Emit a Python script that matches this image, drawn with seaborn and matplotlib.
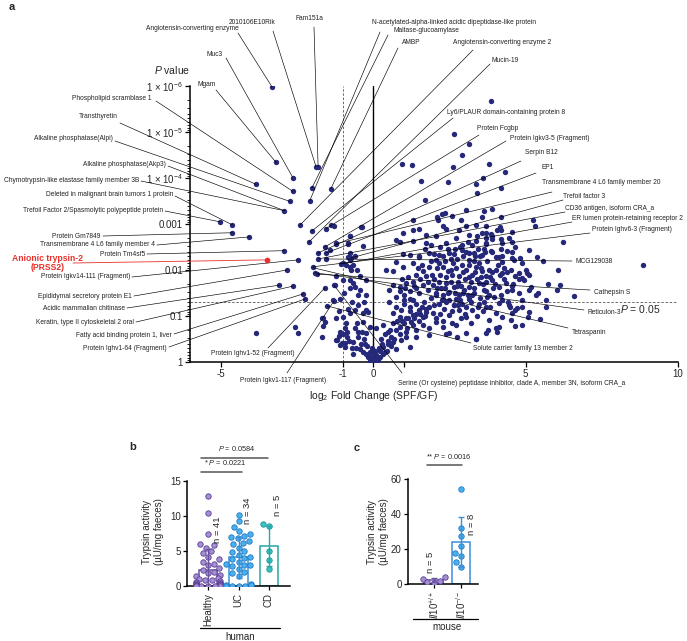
import numpy as np
import pandas as pd
import matplotlib.pyplot as plt
import seaborn as sns
from matplotlib.lines import Line2D
from matplotlib.ticker import LogLocator, NullFormatter

sns.set_theme(style="ticks")
plt.rcParams['font.family'] = ['Liberation Sans', 'DejaVu Sans']
plt.rcParams['mathtext.fontset'] = 'custom'
plt.rcParams['mathtext.rm'] = 'Liberation Sans'
plt.rcParams['mathtext.it'] = 'Liberation Sans:italic'
plt.rcParams['mathtext.bf'] = 'Liberation Sans:bold'

W, H = 687, 641
NAVY = "#26287a"
RED = "#e8312b"

# ---- panel a: volcano (log2 FC, -log10 P) ----
left_points = [
    (-3.31, 5.98), (-3.18, 4.34), (-2.63, 4.01), (-3.83, 3.86), (-2.63, 3.71), (-2.72, 3.49),
    (-2.91, 3.29), (-5.03, 3.05), (-4.61, 2.98), (-4.61, 2.81), (-4.05, 2.72), (-2.91, 2.42),
    (-2.46, 2.22), (-2.82, 2.00), (-3.08, 1.67), (-2.62, 1.65), (-2.29, 1.48), (-2.23, 1.37),
    (-1.87, 4.25), (-1.80, 4.25), (-2.00, 3.79), (-1.38, 3.77), (-2.07, 3.51), (-2.39, 2.98),
    (-2.00, 2.85), (-1.54, 2.90), (-1.38, 2.98), (-0.37, 2.94), (-2.10, 2.61), (-1.58, 2.50),
    (-1.22, 2.57), (-0.83, 2.57), (-0.76, 2.74), (-1.80, 2.37), (-1.54, 2.37), (-1.80, 2.24),
    (-1.54, 2.24), (-0.83, 2.29), (-0.73, 2.26), (-1.06, 2.13), (-1.97, 2.07), (-0.66, 2.11),
    (-1.90, 1.94), (-1.84, 1.91), (-1.58, 1.61), (-1.28, 1.67), (-1.28, 1.33), (-1.51, 1.22),
    (-3.82, 0.62), (-2.55, 0.76), (-2.45, 0.63), (-1.67, 0.95), (-1.64, 0.95), (-1.58, 0.87),
    (-1.64, 0.78), (-1.67, 0.54), (-1.12, 0.56), (-1.19, 0.47), (-1.02, 0.41), (-0.92, 0.41),
    (-0.86, 0.65),
]
right_points = [
    (3.87, 5.67), (2.67, 4.95), (3.15, 4.75), (2.93, 4.51), (2.63, 4.23), (0.94, 4.31),
    (1.29, 4.29), (3.81, 4.31), (4.33, 4.12), (1.59, 3.94), (2.47, 3.92), (3.61, 3.99),
    (3.38, 3.86), (3.42, 3.68), (4.20, 3.79), (1.72, 3.53), (3.06, 3.31), (2.27, 3.22),
    (2.37, 3.25), (2.11, 3.16), (2.60, 3.18), (3.64, 3.29), (3.90, 3.33), (3.58, 3.16),
    (4.20, 3.16), (5.24, 3.09), (5.31, 2.96), (4.17, 2.94), (4.20, 2.88), (4.56, 2.83),
    (3.71, 2.81), (3.87, 2.78), (3.71, 2.70), (3.90, 2.68), (4.20, 2.68), (4.56, 2.61),
    (6.22, 2.61), (3.71, 2.57), (3.68, 2.40), (3.87, 2.42), (4.20, 2.46), (4.39, 2.42),
    (4.56, 2.40), (4.23, 2.31), (4.82, 2.26), (5.37, 2.29), (5.56, 2.20), (8.86, 2.11),
    (6.06, 2.00), (6.13, 1.67), (6.03, 1.57), (6.58, 1.43), (5.73, 1.70), (5.67, 1.35),
    (5.67, 1.19), (5.47, 0.93), (5.08, 0.97), (4.88, 0.80), (4.66, 0.78), (4.07, 0.65),
    (3.78, 0.69), (3.38, 0.50), (2.76, 0.54), (2.40, 0.60), (5.41, 1.50), (5.18, 1.63),
    (4.88, 1.83), (5.05, 1.94), (4.79, 1.94), (4.56, 2.26), (4.13, 2.29), (4.56, 1.65),
    (4.72, 1.17), (4.13, 1.28), (4.43, 1.30), (4.56, 1.07),
    (4.08, 2.87), (3.91, 2.73), (4.24, 2.58), (4.46, 2.69), (4.67, 2.51), (5.11, 2.44),
    (4.02, 2.29), (4.24, 2.18), (4.62, 2.22), (4.89, 2.15), (4.02, 2.00), (4.24, 1.93),
    (4.51, 2.00), (4.67, 1.86), (4.95, 1.78), (5.11, 1.89), (3.91, 1.78), (4.13, 1.64),
    (4.35, 1.71), (4.57, 1.56), (4.78, 1.49), (5.11, 1.56), (5.33, 1.46), (3.97, 1.42),
    (4.24, 1.35), (4.46, 1.24), (4.67, 1.13), (4.89, 1.20), (5.11, 1.09), (4.02, 1.06),
    (4.24, 0.98), (4.51, 0.91), (3.80, 0.91), (4.02, 0.73), (3.70, 0.62), (4.13, 0.76),
]
core_points = [
    (1.30, 3.09), (2.12, 3.09), (2.88, 3.09),
    (-1.28, 2.96), (-0.38, 2.93), (0.98, 2.81), (1.30, 2.87), (1.52, 2.89), (2.28, 2.96),
    (2.39, 2.89), (3.04, 2.95), (2.83, 2.87), (3.37, 2.98), (3.59, 2.80), (3.70, 2.95),
    (-0.76, 2.74), (0.76, 2.66), (1.74, 2.77), (2.07, 2.73), (2.72, 2.69), (3.15, 2.77), (3.42, 2.73),
    (-1.22, 2.58), (-0.82, 2.58), (-0.33, 2.53), (0.87, 2.60), (1.30, 2.62), (1.74, 2.58),
    (2.39, 2.58), (2.93, 2.55), (3.37, 2.62), (3.70, 2.58), (0.98, 2.35), (1.20, 2.33),
    (1.52, 2.29), (1.85, 2.37), (2.17, 2.33), (2.50, 2.37), (2.93, 2.44), (3.15, 2.37),
    (3.32, 2.38), (3.59, 2.33), (-1.41, 2.44), (-0.76, 2.37), (-0.60, 2.31), (-0.76, 2.22),
    (-0.98, 2.15), (-0.87, 2.11), (-0.74, 2.07), (-0.71, 2.00), (-0.54, 2.00), (0.76, 2.18),
    (0.43, 2.00), (0.65, 1.97), (0.98, 2.07), (1.30, 2.15), (1.47, 2.04), (1.63, 1.97),
    (1.74, 1.86), (1.85, 2.07), (2.07, 2.22), (2.17, 2.15), (2.28, 2.07), (2.45, 1.97),
    (2.61, 2.15), (2.72, 2.04), (2.83, 1.86), (2.93, 2.11), (3.04, 2.00), (3.15, 2.22),
    (3.26, 1.89), (3.37, 2.07), (3.48, 2.15), (3.59, 1.97), (3.70, 1.86), (-1.20, 1.86),
    (-0.98, 1.78), (-0.76, 1.78), (-0.43, 1.86), (-0.22, 1.78),
    (-0.65, 1.71), (-0.60, 1.62), (-0.76, 1.60), (-0.43, 1.56), (-1.25, 1.67), (0.65, 1.67),
    (0.54, 1.56), (0.87, 1.64), (1.09, 1.71), (1.30, 1.75), (1.41, 1.60), (1.52, 1.49),
    (1.63, 1.67), (1.79, 1.56), (1.96, 1.67), (2.07, 1.49), (2.23, 1.60), (2.39, 1.71),
    (2.50, 1.53), (2.66, 1.64), (2.83, 1.46), (2.99, 1.56), (3.15, 1.64), (3.32, 1.49),
    (3.48, 1.71), (3.64, 1.56), (3.75, 1.42), (0.76, 1.42), (1.03, 1.46), (1.20, 1.38),
    (2.28, 1.38), (2.72, 1.36), (3.15, 1.36), (-1.30, 1.35), (-1.09, 1.38), (-0.49, 1.46),
    (-0.22, 1.46),
    (0.54, 1.31), (0.76, 1.20), (0.92, 1.13), (1.03, 1.27), (1.20, 1.20), (1.30, 1.35),
    (1.41, 1.27), (1.52, 1.13), (1.68, 1.31), (1.85, 1.20), (1.96, 1.06), (2.17, 1.27),
    (2.34, 1.16), (2.50, 1.02), (2.66, 1.24), (2.83, 1.13), (2.93, 1.27), (3.04, 0.98),
    (3.26, 1.13), (3.48, 1.27), (3.70, 1.20), (0.65, 1.06), (0.87, 0.98), (1.09, 0.95),
    (1.30, 1.02), (1.63, 0.98), (1.74, 1.09), (-0.82, 1.16), (-0.60, 1.13), (-0.76, 1.06),
    (-0.33, 1.06), (-0.22, 1.13), (-0.16, 1.09), (-1.20, 0.95), (-0.98, 0.98),
    (-0.54, 0.84), (-0.33, 0.87), (-0.11, 0.76), (0.11, 0.73), (0.33, 0.80), (0.49, 0.66),
    (0.65, 0.84), (0.87, 0.76), (1.09, 0.66), (1.25, 0.87), (1.41, 0.69), (1.63, 0.80),
    (1.85, 0.73), (2.07, 0.87), (2.28, 0.76), (2.50, 0.62), (2.72, 0.80), (1.85, 0.58),
    (1.41, 0.55), (1.09, 0.55), (-1.09, 0.66), (-0.92, 0.73), (-0.49, 0.66), (-0.22, 0.62),
    (3.37, 0.51), (3.04, 0.62),
    (-1.20, 0.47), (-1.09, 0.36), (-0.92, 0.33), (-0.65, 0.44), (-0.43, 0.29), (-0.27, 0.40),
    (-0.11, 0.22), (0.00, 0.11), (-0.11, 0.07), (0.05, 0.05), (0.11, 0.15), (0.22, 0.25),
    (0.33, 0.33), (0.49, 0.40), (0.65, 0.44), (0.76, 0.29), (0.92, 0.47), (0.38, 0.22),
    (0.16, 0.04), (-0.05, 0.00), (-0.16, 0.11), (-0.22, 0.18), (0.22, 0.11), (0.33, 0.18),
    (-0.65, 0.18), (-0.33, 0.22), (1.20, 0.33),
    (0.00, 0.02), (0.05, 0.10), (-0.05, 0.08), (0.10, 0.03), (-0.10, 0.02), (0.02, 0.20),
    (0.08, 0.25), (-0.03, 0.30), (0.15, 0.08), (-0.12, 0.12),
    (2.0, 1.8), (2.2, 1.9), (2.4, 1.85), (2.6, 1.9), (2.8, 1.75), (3.0, 1.8), (3.2, 1.75),
    (3.4, 1.8), (3.6, 1.7), (2.1, 1.6), (2.3, 1.45), (2.5, 1.35), (2.7, 1.5), (2.9, 1.65),
    (3.1, 1.45), (3.3, 1.6), (3.5, 1.4), (3.7, 1.55), (1.9, 1.4), (2.0, 1.25), (2.2, 1.05),
    (2.4, 1.3), (2.6, 1.1), (2.8, 1.25), (3.0, 1.05), (3.2, 1.3), (3.4, 1.0), (3.6, 1.1),
    (1.7, 1.0), (1.5, 0.9), (1.3, 0.8), (1.1, 0.75), (0.9, 0.6), (0.7, 0.5), (0.6, 0.35),
    (0.45, 0.25), (1.6, 1.2), (1.4, 1.05), (1.2, 1.1), (1.0, 0.85), (0.8, 0.9), (2.1, 2.05),
    (2.35, 2.2), (2.55, 2.0), (2.75, 2.25), (2.95, 1.95), (3.15, 2.1), (3.35, 2.3),
    (3.55, 2.05), (3.75, 2.2), (2.45, 2.45), (2.65, 2.35), (2.85, 2.5), (3.05, 2.4),
    (3.25, 2.55), (3.45, 2.45), (1.9, 2.2), (1.6, 2.1), (1.4, 1.9), (1.2, 1.55), (1.0, 1.35),
    (0.9, 1.55), (3.9, 2.4), (4.1, 2.1), (4.3, 1.8), (4.4, 1.55), (4.6, 1.7), (4.8, 1.8),
    (5.0, 2.0), (4.9, 1.35), (4.5, 1.2), (3.85, 1.2), (3.95, 1.6), (4.2, 1.45), (-0.3, 0.5),
    (-0.5, 0.55), (-0.7, 0.3), (-0.85, 0.55), (-1.0, 0.6), (-0.2, 0.35), (0.25, 0.5),
    (0.4, 0.6), (0.55, 0.7),
    (1.5, 2.3), (1.7, 2.45), (1.9, 2.55), (2.2, 2.5), (2.0, 2.35), (2.3, 2.3), (2.55, 2.25),
    (2.7, 2.45), (2.95, 2.3), (3.1, 2.6), (3.3, 2.2), (3.5, 2.3), (3.65, 2.45), (3.8, 2.0),
    (3.85, 1.85), (3.9, 1.95), (4.0, 1.7), (4.15, 1.9), (4.3, 2.05), (4.4, 1.95), (1.8, 1.75),
    (1.95, 1.9), (2.15, 1.75), (2.35, 1.6), (2.55, 1.75), (2.75, 1.65), (2.95, 1.5),
    (3.15, 1.85), (3.35, 1.95), (3.55, 1.85), (3.7, 1.75), (1.55, 1.8), (1.35, 1.65),
    (1.15, 1.85), (1.05, 1.6), (0.95, 1.8), (2.05, 1.45), (2.25, 1.35), (2.45, 1.5),
    (2.65, 1.25), (2.85, 1.35), (3.05, 1.2), (3.25, 1.45), (3.45, 1.2), (3.65, 1.3), (3.8, 1.45),
    (1.75, 1.15), (1.55, 1.05), (1.35, 0.95), (1.15, 0.95), (0.95, 0.9), (2.05, 0.95),
    (2.3, 0.9), (2.6, 0.85), (2.9, 0.95), (3.2, 0.85), (0.75, 0.7), (0.6, 0.55), (0.5, 0.45),
    (0.3, 0.4), (0.2, 0.3), (-0.4, 0.4), (-0.55, 0.3), (-0.8, 0.45), (-0.35, 0.65),
    (-0.6, 0.75), (-0.9, 0.85), (-1.1, 1.1), (-0.7, 1.3), (-0.5, 1.25), (-0.95, 1.5), (-0.3, 1.3),
]

highlight_name = "Anionic trypsin-2\n(PRSS2)"
highlight_point = (-3.47, 2.22)

label_names = [
    "Angiotensin-converting enzyme", "2010106E10Rik", "Fam151a", "Muc3", "Mgam",
    "Phospholipid scramblase 1", "Transthyretin", "Alkaline phosphatase(Alpi)",
    "Alkaline phosphatase(Akp3)", "Chymotrypsin-like elastase family member 3B",
    "Deleted in malignant brain tumors 1 protein",
    "Trefoil Factor 2/Spasmolytic polypeptide protein", "Protein Gm7849",
    "Transmembrane 4 L6 family member 4", "Protein Tm4sf5", "Protein Igkv14-111 (Fragment)",
    "Epididymal secretory protein E1", "Acidic mammalian chitinase",
    "Keratin, type II cytoskeletal 2 oral", "Fatty acid binding protein 1, liver",
    "Protein Ighv1-64 (Fragment)", "Protein Ighv1-52 (Fragment)", "Protein Igkv1-117 (Fragment)",
    "N-acetylated-alpha-linked acidic dipeptidase-like protein", "Maltase-glucoamylase", "AMBP",
    "Angiotensin-converting enzyme 2", "Mucin-19", "Ly6/PLAUR domain-containing protein 8",
    "Protein Fcgbp", "Protein Igkv3-5 (Fragment)", "Serpin B12", "EP1",
    "Transmembrane 4 L6 family member 20", "Trefoil factor 3", "CD36 antigen, isoform CRA_a",
    "ER lumen protein-retaining receptor 2", "Protein Ighv6-3 (Fragment)", "MCG129038",
    "Cathepsin S", "Reticulon-3", "Tetraspanin", "Solute carrier family 13 member 2",
    "Serine (Or cysteine) peptidase inhibitor, clade A, member 3N, isoform CRA_a",
]
label_fc = [-3.31, -1.87, -1.80, -2.63, -3.18, -2.63, -3.83, -2.72, -2.91, -2.91,
            -4.61, -5.03, -4.61, -4.05, -2.91, -2.46, -2.82, -3.08, -2.62, -2.29,
            -2.23, -1.58, -1.28,
            -2.07, -2.00, -1.38, -2.39, -2.10, -2.00, -1.54, -1.58, -1.80, -1.54,
            -1.22, -0.73, -1.80, -1.06, -1.97, -1.54, -1.84, -1.90, -1.97, -1.51, -1.28]
label_nlp = [5.98, 4.25, 4.25, 4.01, 4.34, 3.71, 3.86, 3.49, 3.29, 3.29,
             2.98, 3.05, 2.81, 2.72, 2.42, 2.22, 2.00, 1.67, 1.65, 1.48,
             1.37, 1.61, 1.33,
             3.51, 3.79, 3.77, 2.98, 2.61, 2.85, 2.90, 2.50, 2.37, 2.37,
             2.57, 2.26, 2.24, 2.13, 2.07, 2.24, 1.91, 1.94, 2.05, 1.22, 1.67]

# text position (ref px), alignment, leader start (ref px)
label_layout = [
    (192, 29, 'center', 238, 33), (252, 23, 'center', 273, 31), (309, 19, 'center', 314, 27),
    (215, 54, 'center', 226, 58), (207, 85, 'center', 216, 90), (151, 98, 'right', 156, 101),
    (118, 117, 'right', 120, 123), (113, 138, 'right', 115, 141), (166, 164, 'right', 168, 166),
    (139, 180, 'right', 141, 181), (173, 195, 'right', 175, 196), (163, 210, 'right', 165, 211),
    (100, 236, 'right', 103, 236), (155, 245, 'right', 157, 245), (145, 254, 'right', 147, 254),
    (130, 277, 'right', 132, 277), (132, 296, 'right', 134, 296), (125, 309, 'right', 127, 308),
    (134, 323, 'right', 136, 322), (172, 335, 'right', 174, 334), (167, 348, 'right', 169, 347),
    (253, 354, 'center', 268, 348), (283, 380, 'center', 287, 373),
    (372, 22, 'left', 380, 32), (393, 31, 'left', 388, 35), (402, 42, 'left', 398, 48),
    (453, 42, 'left', 473, 50), (491, 61, 'left', 490, 64), (447, 113, 'left', 453, 118),
    (477, 129, 'left', 479, 135), (510, 138, 'left', 506, 141), (525, 153, 'left', 521, 161),
    (541, 168, 'left', 536, 173), (542, 183, 'left', 552, 192), (563, 196, 'left', 563, 200),
    (565, 209, 'left', 565, 212), (572, 218, 'left', 572, 222), (592, 229, 'left', 590, 233),
    (575, 261, 'left', 572, 261), (594, 292, 'left', 590, 290), (587, 313, 'left', 584, 310),
    (572, 333, 'left', 568, 328), (473, 348, 'left', 471, 343), (398, 383, 'left', 402, 373),
]

y_ticks = [1e-6, 1e-5, 1e-4, 1e-3, 1e-2, 1e-1, 1]
y_ticklabels = [r'1 × 10$^{-6}$', r'1 × 10$^{-5}$', r'1 × 10$^{-4}$', '0.001', '0.01', '0.1', '1']
x_ticks = [-5, -1, 0, 1, 5, 10]
x_ticklabels = ['-5', '-1', '0', '', '5', '10']

# ---- panel b / c ----
human_groups = ['Healthy', 'UC', 'CD']
healthy = [12.9, 10.5, 7.4, 6.0, 5.8, 5.5, 5.0, 4.7, 4.2, 3.8, 3.5, 3.2, 3.0, 2.6, 2.3, 2.0,
           1.8, 1.6, 1.4, 1.2, 1.0, 0.9, 0.8, 0.7, 0.6, 0.5, 0.5, 0.4, 0.3, 0.3, 0.2, 0.2,
           0.1, 0.1, 0.1, 0.0, 0.0, 0.0, 0.0, 0.0, 0.0]
uc = [10.2, 9.3, 8.5, 7.8, 7.5, 7.2, 7.0, 6.8, 6.5, 6.2, 6.0, 5.5, 5.0, 4.8, 4.5, 4.2, 4.0,
      3.8, 3.5, 3.0, 2.8, 3.2, 3.0, 2.5, 2.0, 1.8, 1.5, 0.3, 0.2, 0.1, 0.0, 0.0, 0.0, 0.0]
cd = [8.86, 8.57, 5.05, 3.70, 2.40]
mouse_groups = [r'$\mathit{Il10}^{+/+}$', r'$\mathit{Il10}^{-/-}$']
il10_wt = [3.8, 2.7, 1.7, 1.3, 0.8]
il10_ko = [54.1, 32.1, 27.5, 21.6, 15.9, 17.5, 12.3, 9.9]

edge_cols = {'Healthy': '#6a52a3', 'UC': '#3d8fd6', 'CD': '#26a6a6'}
dot_face = {'Healthy': '#a58fd3', 'UC': '#4bb0ee', 'CD': '#3cc2c2'}
dot_edge = {'Healthy': '#5a3f94', 'UC': '#1f78c4', 'CD': '#1a9797'}


def fp(x, y):
    return x / W, 1 - y / H


fig = plt.figure(figsize=(W / 100, H / 100), dpi=100)

# ================= panel a =================
ax = fig.add_axes([190 / W, 1 - 362 / H, 488 / W, 276 / H])
pts = pd.DataFrame(left_points + right_points + core_points, columns=['fc', 'nlp'])
pts['p'] = 10.0 ** (-pts['nlp'])
sns.scatterplot(data=pts, x='fc', y='p', ax=ax, color=NAVY, s=15, linewidth=0, zorder=3)
ax.scatter([highlight_point[0]], [10.0 ** -highlight_point[1]], color=RED, s=17, linewidth=0, zorder=4)
ax.set_yscale('log')
ax.set_ylim(1, 1e-6)
ax.set_xlim(-6, 10)
ax.set_yticks(y_ticks)
ax.set_yticklabels(y_ticklabels)
ax.yaxis.set_minor_locator(LogLocator(base=10, subs=np.arange(2, 10)))
ax.yaxis.set_minor_formatter(NullFormatter())
ax.set_xticks(x_ticks)
ax.set_xticklabels(x_ticklabels)
ax.tick_params(axis='both', which='major', labelsize=7, width=0.9, length=3.5, pad=1.5, color='black')
ax.tick_params(axis='y', which='minor', width=0.6, length=2, color='black')
ax.set_xlabel('')
ax.set_ylabel('')
sns.despine(ax=ax)
for sp in ['left', 'bottom']:
    ax.spines[sp].set_linewidth(1.1)
    ax.spines[sp].set_color('black')

ax.axvline(-1, color='#555555', lw=0.6, ls=(0, (3, 2)), zorder=1)
ax.axvline(0, color='black', lw=1.0, zorder=1)
ax.axhline(0.05, color='#555555', lw=0.6, ls=(0, (3, 2)), zorder=1)

for name, fcv, nv, lay in zip(label_names, label_fc, label_nlp, label_layout):
    tx, ty, ha, lx, ly = lay
    fig.text(*fp(tx, ty), name, fontsize=4.8, ha=ha, va='center', color='#222222')
    ax.annotate('', xy=(fcv, 10.0 ** -nv), xycoords='data', xytext=fp(lx, ly),
                textcoords='figure fraction', annotation_clip=False,
                arrowprops=dict(arrowstyle='-', color='black', lw=0.45, shrinkA=0, shrinkB=0))

fig.text(*fp(48, 263), highlight_name, fontsize=6.2, fontweight='bold', color=RED,
         ha='center', va='center', linespacing=1.05)
ax.annotate('', xy=(highlight_point[0], 10.0 ** -highlight_point[1]), xycoords='data',
            xytext=fp(73, 263), textcoords='figure fraction', annotation_clip=False,
            arrowprops=dict(arrowstyle='-', color=RED, lw=0.6, shrinkA=0, shrinkB=0))

fig.text(*fp(172, 70), r'$P$ value', fontsize=7.5, ha='center', va='center')
fig.text(*fp(640, 309), r'$P$ = 0.05', fontsize=7.5, ha='center', va='center')
fig.text(*fp(374, 396), r'log$_2$ Fold Change (SPF/GF)', fontsize=7.5, ha='center', va='center')
fig.text(*fp(12, 7), 'a', fontsize=8, fontweight='bold', ha='center', va='center')


# ================= bar panels =================
def bar_panel(axp, groups, values, edges, faces, dedges, xlim, ylim, yticks, width):
    df = pd.DataFrame({'group': np.repeat(groups, [len(v) for v in values]),
                       'act': np.concatenate(values)})
    pal = {g: e for g, e in zip(groups, edges)}
    sns.barplot(data=df, x='group', y='act', hue='group', order=groups, palette=pal,
                fill=False, errorbar=None, width=width, linewidth=1.1, legend=False, ax=axp)
    for g, fc_, ec_ in zip(groups, faces, dedges):
        sns.swarmplot(data=df[df.group == g], x='group', y='act', order=groups, color=fc_,
                      edgecolor=ec_, linewidth=0.6, size=3.9, ax=axp, zorder=3, warn_thresh=1)
    for i, (v, e) in enumerate(zip(values, edges)):
        axp.errorbar(i, np.mean(v), yerr=np.std(v, ddof=1), color=e, capsize=2.5,
                     elinewidth=1.0, capthick=1.0, zorder=5)
    axp.set_xlim(*xlim)
    axp.set_ylim(*ylim)
    axp.set_yticks(yticks)
    axp.set_xlabel('')
    axp.set_ylabel('')
    sns.despine(ax=axp)
    for sp in ['left', 'bottom']:
        axp.spines[sp].set_linewidth(1.1)
        axp.spines[sp].set_color('black')
    axp.tick_params(axis='y', labelsize=7, width=0.9, length=3, pad=1.5, color='black')
    axp.tick_params(axis='x', labelsize=7, width=0.9, length=3, pad=2, color='black',
                    labelrotation=90)


axb = fig.add_axes([187 / W, 1 - 586 / H, 103 / W, 105 / H])
bar_panel(axb, human_groups, [healthy, uc, cd],
          [edge_cols[g] for g in human_groups], [dot_face[g] for g in human_groups],
          [dot_edge[g] for g in human_groups], (-0.69, 2.69), (0, 15), [0, 5, 10, 15], 0.6)
axb.plot([-0.23, 1.11], [16.3, 16.3], color='#555555', lw=1.1, clip_on=False)
axb.plot([-0.23, 1.97], [18.3, 18.3], color='#555555', lw=1.1, clip_on=False)

axc = fig.add_axes([408 / W, 1 - 584 / H, 70 / W, 105 / H])
bar_panel(axc, mouse_groups, [il10_wt, il10_ko],
          [edge_cols['Healthy'], edge_cols['UC']], [dot_face['Healthy'], dot_face['UC']],
          [dot_edge['Healthy'], dot_edge['UC']], (-0.96, 1.63), (0, 60), [0, 20, 40, 60], 0.7)
axc.plot([-0.26, 1.04], [68, 68], color='#555555', lw=1.1, clip_on=False)

sig_font = 5.3
fig.text(*fp(225, 467), r'* $P$ = 0.0221', fontsize=sig_font, ha='center', va='bottom')
fig.text(*fp(237, 453), r'$P$ = 0.0584', fontsize=sig_font, ha='center', va='bottom')
fig.text(*fp(449, 461), r'** $P$ = 0.0016', fontsize=sig_font, ha='center', va='bottom')

for (x, y, s) in [(218, 530, 'n = 41'), (247, 511, 'n = 34'), (278, 505, 'n = 5'),
                  (430, 562, 'n = 5'), (472, 524, 'n = 8')]:
    fig.text(*fp(x, y), s, fontsize=6.8, rotation=90, ha='center', va='center')

for x in (153, 378):
    fig.text(*fp(x, 532), 'Trypsin activity\n(µU/mg faeces)', fontsize=7, rotation=90,
             ha='center', va='center', linespacing=1.15)

fig.add_artist(Line2D([200 / W, 280 / W], [1 - 628 / H, 1 - 628 / H], color='black', lw=0.9))
fig.add_artist(Line2D([413 / W, 478 / W], [1 - 619 / H, 1 - 619 / H], color='black', lw=0.9))
fig.text(*fp(240, 637), 'human', fontsize=7, ha='center', va='center')
fig.text(*fp(447, 627), 'mouse', fontsize=7, ha='center', va='center')
fig.text(*fp(133, 447), 'b', fontsize=8, fontweight='bold', ha='center', va='center')
fig.text(*fp(357, 448), 'c', fontsize=8, fontweight='bold', ha='center', va='center')

fig.savefig('out.png', dpi=100)
